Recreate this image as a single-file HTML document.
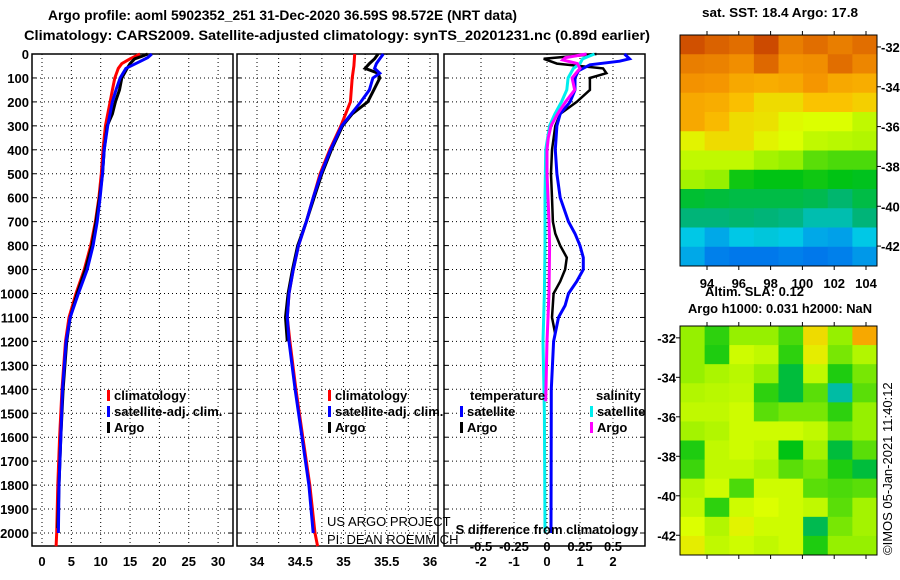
<!DOCTYPE html>
<html><head><meta charset="utf-8">
<style>
body{margin:0;background:#fff;}
svg{display:block;font-family:"Liberation Sans",sans-serif;}
.b{font-weight:bold;font-size:13px;}
.n{font-weight:normal;font-size:13px;}
</style></head>
<body>
<svg id="fig" width="900" height="580" viewBox="0 0 900 580">
<text class="b" x="48" y="20" textLength="469" lengthAdjust="spacingAndGlyphs" style="font-size:14px">Argo profile: aoml 5902352_251 31-Dec-2020 36.59S 98.572E (NRT data)</text>
<text class="b" x="24" y="40" textLength="626" lengthAdjust="spacingAndGlyphs" style="font-size:14px">Climatology: CARS2009. Satellite-adjusted climatology: synTS_20201231.nc (0.89d earlier)</text>
<text class="b" x="702" y="17" textLength="156" lengthAdjust="spacingAndGlyphs">sat. SST: 18.4 Argo: 17.8</text>
<text class="b" x="705" y="296">Altim. SLA: 0.12</text>
<text class="b" x="688" y="313" textLength="184" lengthAdjust="spacingAndGlyphs">Argo h1000: 0.031 h2000: NaN</text>
<text x="892" y="555" font-size="13" transform="rotate(-90 892 555)">©IMOS 05-Jan-2021 11:40:12</text>
<g id="plots"></g>
</svg>
<script>
// ---- depth ticks ----
const depthTicks=[0,100,200,300,400,500,600,700,800,900,1000,1100,1200,1300,1400,1500,1600,1700,1800,1900,2000];
// ---- temperature panel ----
const tTickVals=[0,5,10,15,20,25,30];
const tClimD=[0,20,40,60,100,150,200,300,400,500,600,700,800,900,1000,1100,1200,1400,1600,1800,2000,2055];
const tClimV=[16.7,15,13.6,13,12.4,12,11.6,10.8,10.4,10.1,9.7,9.1,8.3,7.2,5.8,4.6,4.0,3.4,3.0,2.7,2.5,2.4];
const tSatD=[0,15,30,60,100,150,200,300,400,500,600,700,800,900,1000,1100,1200,1400,1600,1800,2000];
const tSatV=[18.7,18,16.8,14.3,13.3,12.6,12.0,11.2,10.6,10.3,9.9,9.4,8.7,7.7,6.2,4.8,4.1,3.5,3.2,2.9,2.8];
const tArgoD=[0,10,20,40,60,100,150,200,250,300,400,500,600,700,800,900,1000,1100,1200,1400,1600,1800,1980];
const tArgoV=[18,17,15.8,15,14.5,13.6,13.2,12.5,12,11.1,10.6,10.3,9.8,9.2,8.5,7.4,6.0,4.8,4.2,3.6,3.2,2.9,2.7];
// ---- salinity panel ----
const sTickVals=[34,34.5,35,35.5,36];
const sClimD=[0,50,100,200,300,400,500,600,700,800,900,1000,1100,1200,1400,1600,1800,2000,2055];
const sClimV=[35.13,35.12,35.1,35.08,34.97,34.84,34.73,34.65,34.57,34.48,34.42,34.37,34.35,34.38,34.45,34.53,34.61,34.67,34.7];
const sSatD=[0,20,40,60,80,100,150,200,300,400,500,600,700,800,900,1000,1100,1200,1400,1600,1800,2000];
const sSatV=[35.46,35.42,35.38,35.36,35.42,35.34,35.3,35.2,34.98,34.85,34.74,34.65,34.57,34.48,34.42,34.37,34.35,34.37,34.44,34.52,34.6,34.65];
const sArgoD=[0,20,40,60,80,100,150,200,250,300,400,500,600,700,800,900,1000,1100,1200];
const sArgoV=[35.4,35.36,35.3,35.25,35.4,35.42,35.35,35.28,35.1,34.99,34.86,34.75,34.66,34.57,34.47,34.41,34.36,34.33,34.35];
// ---- difference panel ----
const dTickVals=[-2,-1,0,1,2];
const sdTickLabels=["-0.5","-0.25","0","0.25","0.5"];
const sdTickVals=[-0.5,-0.25,0,0.25,0.5];
const dTSatD=[0,20,30,45,70,100,150,200,250,300,400,500,600,700,750,800,850,900,950,1000,1050,1100,1200,1400,2000];
const dTSatV=[2.35,2.5,2.2,1.3,0.95,0.85,0.85,0.7,0.4,0.3,0.25,0.3,0.4,0.65,0.85,1.0,1.1,1.1,0.9,0.65,0.55,0.35,0.2,0.13,0.12];
const dTArgoD=[0,20,40,60,80,100,150,200,250,300,400,500,600,700,750,800,850,900,950,1000,1100,1170];
const dTArgoV=[1.5,-0.1,0.3,1.7,1.8,1.3,1.3,0.9,0.4,0.25,0.15,0.12,0.15,0.18,0.25,0.4,0.6,0.55,0.4,0.2,0.15,0.25];
const dSSatD=[0,20,40,60,100,150,200,250,300,400,600,800,1000,1200,1500,2000];
const dSSatV=[0.36,0.27,0.25,0.2,0.16,0.15,0.11,0.06,0.02,-0.01,-0.015,-0.015,-0.02,-0.03,-0.02,-0.015];
const dSArgoD=[0,15,25,40,60,80,100,150,200,250,300,350,400,500,700,800,1000,1200,1450];
const dSArgoV=[0.3,0.14,0.12,0.23,0.25,0.22,0.19,0.21,0.14,0.08,0.03,0.01,0,0,0.015,0.02,0.015,0,-0.01];
// ---- map data (colour index 0..10) ----
const sstLatTicks=[-32,-34,-36,-38,-40,-42];
const lonTicks=[94,96,98,100,102,104];
const sstGrid=[
[9.5,9.2,9.0,9.6,8.6,9.0,8.6,9.0],
[8.6,8.5,8.2,9.1,8.1,8.2,9.0,8.4],
[8.1,8.0,7.6,7.5,7.6,8.0,7.6,7.5],
[7.6,7.5,7.1,6.6,6.6,7.0,7.0,6.8],
[7.6,7.2,6.6,6.5,6.1,6.0,6.0,5.6],
[6.2,6.6,6.6,6.2,6.0,5.6,5.5,5.4],
[5.6,5.6,5.6,5.2,5.0,4.6,4.5,4.5],
[5.2,5.0,4.1,4.0,4.0,4.1,4.0,3.9],
[3.7,3.6,3.5,3.5,3.5,3.4,3.1,3.5],
[3.0,3.0,3.1,3.0,2.9,2.5,2.5,3.0],
[2.0,1.6,2.0,2.1,2.0,1.6,1.5,2.0],
[1.6,1.1,1.0,1.0,1.1,1.0,1.1,1.4]];
const slaGrid=[
[5,4.3,5,5,4.5,6.6,5,7.6],
[5,4.2,5.8,5.6,4.3,6.3,4.8,5.4],
[5,5.3,5.5,5,3.6,5.6,4.2,4.8],
[5.4,5.5,5.6,4.3,3.6,4.6,2.6,4.6],
[5.6,5.6,5.8,4.6,4.8,4.8,4.3,5.0],
[5.2,5.4,5.8,5.8,5.8,5.6,4.8,5.0],
[4.2,5.6,5.8,5.6,4.0,5.2,3.6,4.6],
[4.4,5.6,5.6,5.3,4.6,4.8,4.2,3.6],
[5.4,5.8,4.5,5.8,5.8,4.6,4.5,4.6],
[5.6,4.3,5.8,6.0,5.8,5.6,4.6,5.2],
[6.0,5.4,6.2,5.8,5.8,3.4,4.8,5.2],
[6.3,5.6,5.8,5.6,5.8,4.2,5.0,5.0]];

const NS='http://www.w3.org/2000/svg';
const root=document.getElementById('plots');
function mk(tag,attrs,parent){const e=document.createElementNS(NS,tag);for(const k in attrs)e.setAttribute(k,attrs[k]);(parent||root).appendChild(e);return e;}
const yTop=54,yPerM=0.2395,yBot=546;
function yD(d){return yTop+d*yPerM;}
function panel(x0,x1,name){
  const g=mk('g',{});
  
  
  mk('rect',{x:x0,y:yTop,width:x1-x0,height:yBot-yTop,fill:'none',stroke:'#000','stroke-width':1.5},g);
  return g;
}
function hgrid(g,x0,x1){
  depthTicks.forEach(d=>{mk('line',{x1:x0,x2:x1,y1:yD(d),y2:yD(d),stroke:'#000','stroke-dasharray':'1,3','stroke-width':1},g);
   mk('line',{x1:x0,x2:x0+4,y1:yD(d),y2:yD(d),stroke:'#000'},g);mk('line',{x1:x1-4,x2:x1,y1:yD(d),y2:yD(d),stroke:'#000'},g);});
}
function vgrid(g,xs){xs.forEach(x=>mk('line',{x1:x,x2:x,y1:yTop,y2:yBot,stroke:'#000','stroke-dasharray':'1,3','stroke-width':1},g));}
function series(g,ds,vs,xf,color,name,w){
  const pts=ds.map((d,i)=>xf(vs[i]).toFixed(1)+','+yD(d).toFixed(1)).join(' ');
  const p=mk('polyline',{points:pts,fill:'none',stroke:color,'stroke-width':w||3},g);
  
  
}
function txt(g,x,y,s,anchor,cls,name){const t=mk('text',{x:x,y:y,'text-anchor':anchor||'start','class':cls||'b'},g);t.textContent=s;
  
  return t;}
function legendItem(g,x,y,color,label,name){
  mk('rect',{x:x,y:y-10,width:3,height:11,fill:color},g);
  txt(g,x+7,y,label,'start','b',name);
}
// y labels
const yl=mk('g',{});


depthTicks.forEach(d=>txt(yl,29,yD(d)+5,String(d),'end','b','depth-tick'));

// Panel 1 temperature
const xT=v=>42+v*5.87;
const p1=panel(32,233,'temperature-panel');
hgrid(p1,32,233);vgrid(p1,tTickVals.map(xT));
tTickVals.forEach(v=>txt(p1,xT(v),566,String(v),'middle','b','temperature-tick'));
series(p1,tClimD,tClimV,xT,'#f00','temp-climatology-line');
series(p1,tArgoD,tArgoV,xT,'#000','temp-argo-line');
series(p1,tSatD,tSatV,xT,'#00f','temp-satellite-line');
legendItem(p1,107,400,'#f00','climatology','legend-climatology');
legendItem(p1,107,416,'#00f','satellite-adj. clim.','legend-satellite');
legendItem(p1,107,432,'#000','Argo','legend-argo');

// Panel 2 salinity
const xS=v=>257+(v-34)*86.5;
const p2=panel(237,438,'salinity-panel');
hgrid(p2,237,438);vgrid(p2,[34,34.25,34.5,34.75,35,35.25,35.5,35.75,36].map(xS));
sTickVals.forEach(v=>txt(p2,xS(v),566,String(v),'middle','b','salinity-tick'));
series(p2,sClimD,sClimV,xS,'#f00','sal-climatology-line');
series(p2,sArgoD,sArgoV,xS,'#000','sal-argo-line');
series(p2,sSatD,sSatV,xS,'#00f','sal-satellite-line');
legendItem(p2,328,400,'#f00','climatology','legend-climatology');
legendItem(p2,328,416,'#00f','satellite-adj. clim.','legend-satellite');
legendItem(p2,328,432,'#000','Argo','legend-argo');
txt(p2,327,526,'US ARGO PROJECT','start','n','project-credit');
txt(p2,327,544,'PI: DEAN ROEMMICH','start','n','pi-credit');

// Panel 3 differences
const xDT=v=>547+v*33;
const xDS=v=>547+v*132;
const p3=panel(444,645,'difference-panel');
hgrid(p3,444,645);vgrid(p3,dTickVals.map(xDT));
dTickVals.forEach(v=>txt(p3,xDT(v),566,String(v),'middle','b','temp-diff-tick'));
series(p3,dTArgoD,dTArgoV,xDT,'#000','temp-diff-argo-line',2.5);
series(p3,dTSatD,dTSatV,xDT,'#00f','temp-diff-satellite-line');
series(p3,dSSatD,dSSatV,xDS,'#0ee','sal-diff-satellite-line');
series(p3,dSArgoD,dSArgoV,xDS,'#f0f','sal-diff-argo-line');
txt(p3,470,400,'temperature','start','b','legend-temperature-heading');
legendItem(p3,460,416,'#00f','satellite','legend-temp-satellite');
legendItem(p3,460,432,'#000','Argo','legend-temp-argo');
txt(p3,596,400,'salinity','start','b','legend-salinity-heading');
legendItem(p3,590,416,'#0ee','satellite','legend-sal-satellite');
legendItem(p3,590,432,'#f0f','Argo','legend-sal-argo');
txt(p3,547,534,'S difference from climatology','middle','b','sal-diff-axis-title');
sdTickVals.forEach((v,i)=>txt(p3,xDS(v),551,sdTickLabels[i],'middle','b','sal-diff-tick'));

// colour map
const cmap=[[0,80,230],[0,120,235],[0,200,230],[0,180,120],[0,195,20],[150,240,0],[220,255,0],[250,195,0],[245,150,0],[225,110,0],[190,50,0]];
function col(v){const i=Math.max(0,Math.min(9.999,v));const a=Math.floor(i),f=i-a;const c0=cmap[a],c1=cmap[a+1];
 return 'rgb('+c0.map((c,k)=>Math.round(c+(c1[k]-c)*f)).join(',')+')';}
function map(grid,x0,y0,x1,y1,name,latTicks,labelsLeft){
  const g=mk('g',{});
  
  
  const rows=grid.length,cols=grid[0].length,cw=(x1-x0)/cols,ch=(y1-y0)/rows;
  grid.forEach((r,ri)=>r.forEach((v,ci)=>{const c=mk('rect',{x:x0+ci*cw,y:y0+ri*ch,width:cw+0.5,height:ch+0.5,fill:col(v)},g);
    
    }));
  mk('rect',{x:x0,y:y0,width:x1-x0,height:y1-y0,fill:'none',stroke:'#000'},g);
  const latY=l=>y0+( -31.4 - l)*(y1-y0)/11.6;
  latTicks.forEach(l=>{const y=latY(l);
    if(labelsLeft){mk('line',{x1:x0-4,x2:x0,y1:y,y2:y,stroke:'#000'},g);txt(g,x0-4,y+5,String(l),'end','b','lat-tick');}
    else{mk('line',{x1:x1,x2:x1+4,y1:y,y2:y,stroke:'#000'},g);txt(g,x1+4,y+5,String(l),'start','b','lat-tick');}});
  const lonX=l=>707+(l-94)*15.9;
  lonTicks.forEach(l=>{mk('line',{x1:lonX(l),x2:lonX(l),y1:y0-4,y2:y0,stroke:'#000'},g);mk('line',{x1:lonX(l),x2:lonX(l),y1:y1,y2:y1+4,stroke:'#000'},g);});
  return g;
}
const m1=map(sstGrid,680,35,877,266,'sst-map',sstLatTicks,false);
lonTicks.forEach(l=>txt(m1,707+(l-94)*15.9,288,String(l),'middle','b','lon-tick'));
map(slaGrid,680,326,877,555,'sla-map',sstLatTicks,true);
</script>
</body></html>
